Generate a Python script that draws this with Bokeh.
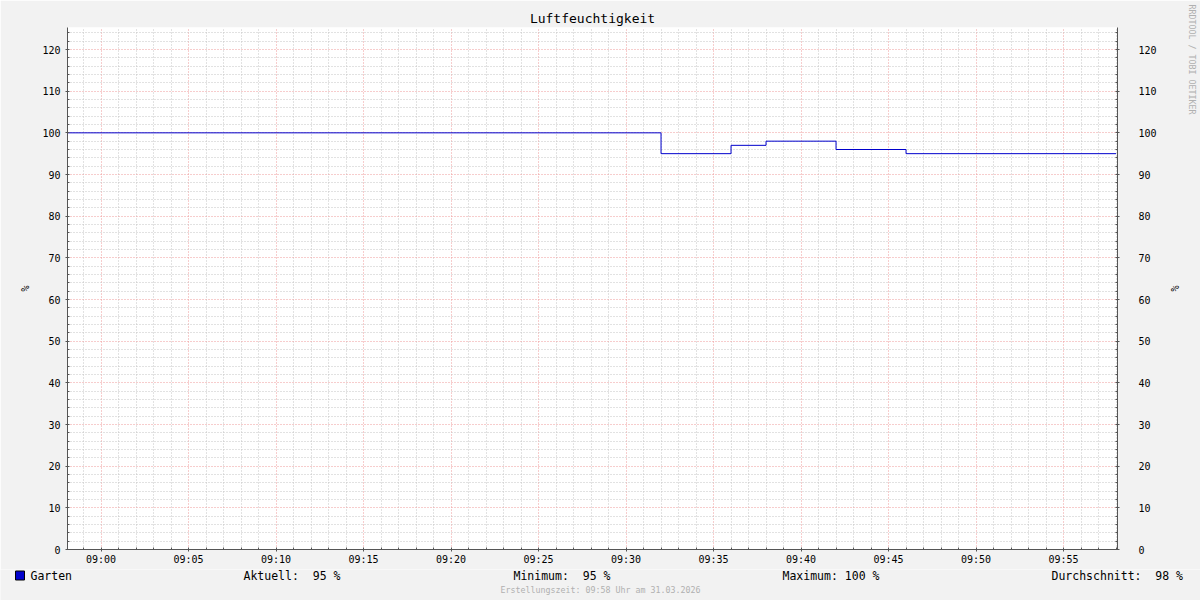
import pandas as pd
from bokeh.plotting import figure
from bokeh.layouts import column
from bokeh.models import (Range1d, FixedTicker, DatetimeTickFormatter, LinearAxis,
                          Title, ColumnDataSource)
from bokeh.embed import file_html
from bokeh.resources import INLINE

# ---------------- data ----------------
title_text = "Luftfeuchtigkeit"
day = "2026-03-31"
change_times = ["08:58", "09:32", "09:36", "09:38", "09:42", "09:46", "09:58"]
humidity = [100, 95, 97, 98, 96, 95, 95]
series_name = "Garten"
unit_label = "%"
stat_names = ["Aktuell:", "Minimum:", "Maximum:", "Durchschnitt:"]
stat_values = [95, 95, 100, 98]
footer_text = "Erstellungszeit: 09:58 Uhr am 31.03.2026"
watermark_text = "RRDTOOL / TOBI OETIKER"
x_window = ["08:58:05", "09:58:05"]
x_major_times = ["09:00", "09:05", "09:10", "09:15", "09:20", "09:25",
                 "09:30", "09:35", "09:40", "09:45", "09:50", "09:55"]
y_major_ticks = [0, 10, 20, 30, 40, 50, 60, 70, 80, 90, 100, 110, 120]
y_top = 125.28

# ---------------- helpers ----------------
FONT = "DejaVu Sans Mono"
LINE_COLOR = "#0000cc"
AXIS_COLOR = "#555555"
BG = "#f2f2f2"


def ms(t):
    return pd.Timestamp(f"{day} {t}").timestamp() * 1000.0


x0, x1 = ms(x_window[0]), ms(x_window[1])
x_major = [ms(t) for t in x_major_times]
minute = 60000.0
x_minor = []
m = ms("08:59")
while m < x1:
    if all(abs(m - a) > 1 for a in x_major):
        x_minor.append(m)
    m += minute
y_minor = [v for v in range(0, 125, 2) if v % 10 != 0]

source = ColumnDataSource(dict(x=[ms(t) for t in change_times], y=humidity))

W = 1200
MAIN_H = 569
STRIP_H = 31

p = figure(width=W, height=MAIN_H, output_backend="svg", toolbar_location=None,
           x_axis_type="datetime",
           x_range=Range1d(x0, x1), y_range=Range1d(0, y_top),
           min_border_left=67, min_border_right=83, min_border_top=27, min_border_bottom=20,
           background_fill_color="white", border_fill_color=BG,
           outline_line_color=None, frame_align=False)

p.title.text = title_text
p.title.align = "center"
p.title.text_font = FONT
p.title.text_font_size = "13px"
p.title.text_font_style = "normal"
p.title.text_color = "#000000"
p.title.standoff = 4

xticker = FixedTicker(ticks=x_major, minor_ticks=x_minor)
yticker = FixedTicker(ticks=y_major_ticks, minor_ticks=y_minor)

p.xaxis.ticker = xticker
p.xaxis.formatter = DatetimeTickFormatter(minutes="%H:%M", hours="%H:%M", minsec="%H:%M",
                                          seconds="%H:%M", hourmin="%H:%M")
p.yaxis.ticker = yticker

right_axis = LinearAxis(ticker=yticker)
p.add_layout(right_axis, "right")


def style_axis(ax, standoff):
    ax.axis_line_color = AXIS_COLOR
    ax.axis_line_width = 1
    ax.major_tick_line_color = AXIS_COLOR
    ax.minor_tick_line_color = AXIS_COLOR
    ax.major_tick_in = 2
    ax.major_tick_out = 2
    ax.minor_tick_in = 2
    ax.minor_tick_out = 0
    ax.major_label_text_font = FONT
    ax.major_label_text_font_size = "10px"
    ax.major_label_text_color = "#000000"
    ax.major_label_standoff = standoff


for ax in p.xaxis:
    style_axis(ax, 2)
for ax in p.yaxis:
    style_axis(ax, 5)
style_axis(right_axis, 19)

for g in (p.xgrid, p.ygrid):
    g.grid_line_color = "#ee9b9b"
    g.grid_line_dash = "1 2"
    g.minor_grid_line_color = "#c4c4c4"
    g.minor_grid_line_dash = "1 2"
p.xgrid.ticker = xticker
p.ygrid.ticker = yticker

# data line
p.step(x="x", y="y", source=source, mode="after", line_color=LINE_COLOR, line_width=1)

# unit labels and watermark as side titles
p.add_layout(Title(text=unit_label, align="center", text_font=FONT, text_font_size="10px",
                   text_font_style="normal", text_color="#000000", standoff=18), "left")
p.add_layout(Title(text=unit_label, align="center", text_font=FONT, text_font_size="10px",
                   text_font_style="normal", text_color="#000000", standoff=19), "right")
p.add_layout(Title(text=watermark_text, align="left", offset=-23, text_font=FONT,
                   text_font_size="8.3px", text_font_style="normal", text_color="#b0b0b0",
                   standoff=-9), "right")

# ---------------- bottom strip: legend, statistics, footer ----------------
s = figure(width=W, height=STRIP_H, output_backend="svg", toolbar_location=None,
           x_range=Range1d(0, W), y_range=Range1d(STRIP_H, 0),
           x_axis_location=None, y_axis_location=None,
           min_border=0, min_border_left=0, min_border_right=0,
           min_border_top=0, min_border_bottom=0, frame_align=False,
           background_fill_color=BG, border_fill_color=BG, outline_line_color=None)
s.grid.visible = False

row_y = 6
# legend key
s.rect(x=[19.5], y=[row_y], width=9, height=9, fill_color=LINE_COLOR, line_color="black")
s.text(x=[30], y=[row_y], text=[series_name],
       text_font={"value": FONT}, text_font_size="11.5px", text_color="#000000",
       text_align="left", text_baseline="middle")

stat_starts = [243, 513, 782, 1051]
cw = 0.602 * 11.5
stat_value_texts = [f"{v} %" for v in stat_values]
s.text(x=stat_starts, y=[row_y] * len(stat_names), text=stat_names,
       text_font={"value": FONT}, text_font_size="11.5px", text_color="#000000",
       text_align="left", text_baseline="middle")
s.text(x=[sx + (len(n) + 6) * cw for sx, n in zip(stat_starts, stat_names)],
       y=[row_y] * len(stat_names), text=stat_value_texts,
       text_font={"value": FONT}, text_font_size="11.5px", text_color="#000000",
       text_align="right", text_baseline="middle")
s.text(x=[W / 2], y=[20], text=[footer_text],
       text_font={"value": FONT}, text_font_size="8.3px", text_color="#b0b0b0",
       text_align="center", text_baseline="middle")

layout = column(p, s, spacing=0)
open("out.html", "w").write(file_html(layout, INLINE))
